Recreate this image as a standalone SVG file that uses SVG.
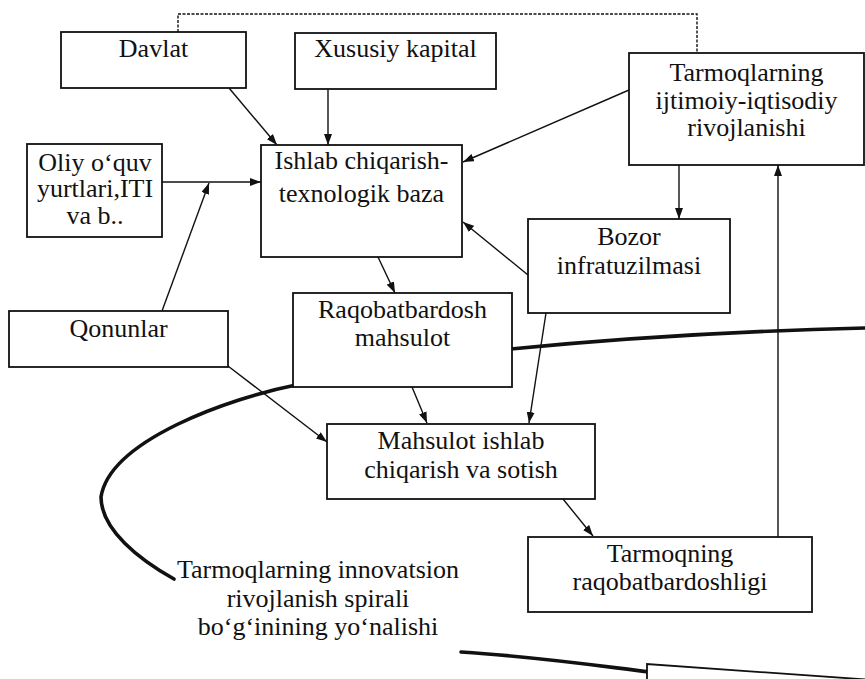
<svg xmlns="http://www.w3.org/2000/svg" width="865" height="679" viewBox="0 0 865 679">
<style>
.box{fill:#fff;stroke:#111;stroke-width:1.8}
.t{font-family:"Liberation Serif","Times New Roman",serif;font-size:26px;fill:#111;text-anchor:middle}
.c{fill:none;stroke:#111;stroke-width:1.4}
.thick{fill:none;stroke:#111;stroke-width:3.6;stroke-linecap:round}
.dash{fill:none;stroke:#111;stroke-width:1.4;stroke-dasharray:3 1.5}
</style>
<defs>
<marker id="ah" markerUnits="userSpaceOnUse" markerWidth="11" markerHeight="8" refX="11" refY="4" orient="auto">
<path d="M0,0 L11,4 L0,8 z" fill="#111"/>
</marker>
</defs>
<rect width="865" height="679" fill="#fff"/>
<g id="spiral">
<path class="thick" d="M865,328 C740,331 620,338 500,350"/>
<path class="thick" d="M296,385 C230,398 110,440 101,497 C101,530 140,560 174,579"/>
<path class="thick" d="M461,652 C540,657 600,666 650,672 L865,684"/>
</g>
<g id="connectors">
<path class="dash" d="M178,32 V14 H697 V53"/>
<path class="c" d="M229,88 L277,145" marker-end="url(#ah)"/>
<path class="c" d="M328,89 L328,145" marker-end="url(#ah)"/>
<path class="c" d="M629,90 L463,162" marker-end="url(#ah)"/>
<path class="c" d="M162,182 L261,182" marker-end="url(#ah)"/>
<path class="c" d="M162,311 L209,183" marker-end="url(#ah)"/>
<path class="c" d="M378,257 L395,293" marker-end="url(#ah)"/>
<path class="c" d="M679,165 L679,219" marker-end="url(#ah)"/>
<path class="c" d="M528,275 L463,222" marker-end="url(#ah)"/>
<path class="c" d="M412,387 L427,423" marker-end="url(#ah)"/>
<path class="c" d="M546,313 L529,423" marker-end="url(#ah)"/>
<path class="c" d="M228,366 L327,442" marker-end="url(#ah)"/>
<path class="c" d="M563,499 L593,536" marker-end="url(#ah)"/>
<path class="c" d="M778,537 L778,165" marker-end="url(#ah)"/>
</g>
<g id="davlat"><rect class="box" x="61" y="32" width="185" height="56"/><text class="t" x="153.5" y="57">Davlat</text></g>
<g id="xususiy"><rect class="box" x="295" y="33" width="201" height="56"/><text class="t" x="395.5" y="57">Xususiy kapital</text></g>
<g id="tarmoqlarning"><rect class="box" x="629" y="53" width="235" height="112"/><text class="t" x="746.5" y="81">Tarmoqlarning</text><text class="t" x="746.5" y="108.5">ijtimoiy-iqtisodiy</text><text class="t" x="746.5" y="136">rivojlanishi</text></g>
<g id="oliy"><rect class="box" x="27" y="144" width="135" height="93"/><text class="t" x="95" y="170.5">Oliy o‘quv</text><text class="t" x="95" y="197">yurtlari,ITI</text><text class="t" x="95" y="223.5">va b..</text></g>
<g id="ishlab"><rect class="box" x="261" y="145" width="201" height="112"/><text class="t" x="361.5" y="169">Ishlab chiqarish-</text><text class="t" x="361.5" y="202">texnologik baza</text></g>
<g id="bozor"><rect class="box" x="528" y="219" width="202" height="94"/><text class="t" x="629" y="245">Bozor</text><text class="t" x="629" y="274">infratuzilmasi</text></g>
<g id="qonunlar"><rect class="box" x="9" y="311" width="219" height="56"/><text class="t" x="118.5" y="337">Qonunlar</text></g>
<g id="raqobat"><rect class="box" x="293" y="293" width="219" height="94"/><text class="t" x="402.5" y="318">Raqobatbardosh</text><text class="t" x="402.5" y="346">mahsulot</text></g>
<g id="mahsulot"><rect class="box" x="327" y="424" width="268" height="75"/><text class="t" x="461" y="449">Mahsulot ishlab</text><text class="t" x="461" y="478">chiqarish va sotish</text></g>
<g id="tarmoqning"><rect class="box" x="528" y="537" width="284" height="75"/><text class="t" x="670" y="562">Tarmoqning</text><text class="t" x="670" y="590">raqobatbardoshligi</text></g>
<g id="spiral-label"><text class="t" x="318" y="578">Tarmoqlarning innovatsion</text><text class="t" x="318" y="607">rivojlanish spirali</text><text class="t" x="318" y="635">bo‘g‘inining yo‘nalishi</text></g>
<g id="bottom-box"><path class="box" d="M647,690 V664 L866,679.5 V690 z"/></g>
</svg>
